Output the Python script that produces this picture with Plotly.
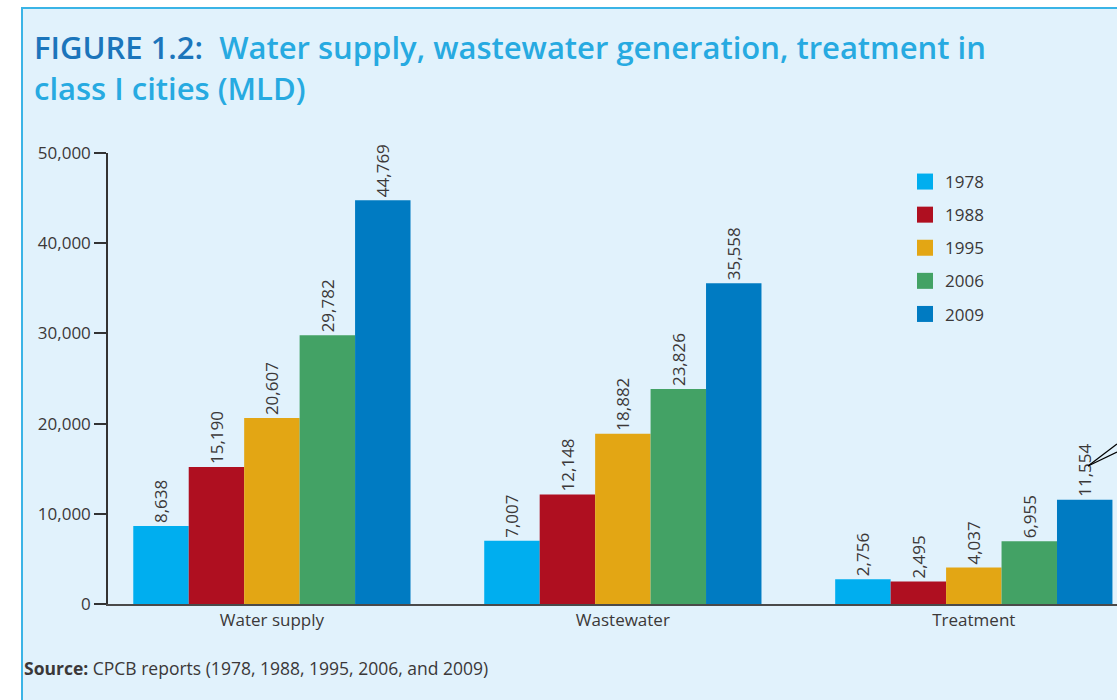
import plotly.graph_objects as go

# ---- data ----
categories = ["Water supply", "Wastewater", "Treatment"]
years = ["1978", "1988", "1995", "2006", "2009"]
v1978 = [8638, 7007, 2756]
v1988 = [15190, 12148, 2495]
v1995 = [20607, 18882, 4037]
v2006 = [29782, 23826, 6955]
v2009 = [44769, 35558, 11554]
series = [v1978, v1988, v1995, v2006, v2009]
colors = ["#00aeef", "#af0f20", "#e3a614", "#43a265", "#007bc2"]
y_ticks = [0, 10000, 20000, 30000, 40000, 50000]
y_tick_text = ["0", "10,000", "20,000", "30,000", "40,000", "50,000"]

W, H = 1117, 700
L, R, T, B = 108, 1117, 153, 604

def px(x):
    return (x - L) / (R - L)

def py(y):
    return (B - y) / (B - T)

FONT = "Open Sans"
TXT = "#3b3838"

fig = go.Figure()
for yr, vals, c in zip(years, series, colors):
    fig.add_trace(go.Bar(
        x=categories, y=vals, name=yr, marker=dict(color=c, line=dict(width=0)),
        texttemplate="%{y:,}", textposition="outside", textangle=-90,
        textfont=dict(family=FONT, size=17, color=TXT), cliponaxis=False,
        showlegend=False,
    ))
    fig.add_trace(go.Scatter(
        x=[None], y=[None], mode="markers", name=yr, legendgroup=yr,
        marker=dict(symbol="square", size=16, color=c),
    ))

fig.update_layout(
    width=W, height=H,
    margin=dict(l=L, r=W - R, t=T, b=H - B, pad=0),
    paper_bgcolor="white",
    plot_bgcolor="rgba(0,0,0,0)",
    barmode="group", bargap=0.21, bargroupgap=0,
    font=dict(family=FONT, color=TXT),
    showlegend=True,
    legend=dict(x=px(905), y=py(164), xanchor="left", yanchor="top",
                bgcolor="rgba(0,0,0,0)", font=dict(size=17, color=TXT),
                tracegroupgap=8, itemsizing="trace"),
    xaxis=dict(range=[-0.467, 2.408], showline=True, linecolor="#4a4a4a", linewidth=2,
               ticks="", showgrid=False, zeroline=False,
               tickfont=dict(size=17, color=TXT), fixedrange=True),
    yaxis=dict(range=[0, 50000], tickvals=y_ticks, ticktext=y_tick_text,
               showline=True, linecolor="#333333", linewidth=1.5,
               ticks="outside", ticklen=12, tickwidth=1.5, tickcolor="#333333",
               showgrid=False, zeroline=False,
               tickfont=dict(size=17, color=TXT), fixedrange=True),
    shapes=[
        dict(type="rect", xref="paper", yref="paper", x0=px(22), x1=px(1200),
             y0=py(760), y1=py(8), fillcolor="#e1f2fc",
             line=dict(color="#3ab4e6", width=2), layer="below"),
        dict(type="line", xref="paper", yref="paper", x0=px(1088), y0=py(466),
             x1=px(1117), y1=py(444), line=dict(color="black", width=1.3)),
        dict(type="line", xref="paper", yref="paper", x0=px(1088), y0=py(466),
             x1=px(1117), y1=py(452), line=dict(color="black", width=1.3)),
    ],
    annotations=[
        dict(xref="paper", yref="paper", x=px(32), y=py(47), xanchor="left", yanchor="middle",
             showarrow=False,
             text="<span style='color:#1b75bb'>FIGURE 1.2:</span>  Water supply, wastewater generation, treatment in",
             font=dict(family=FONT, size=31, color="#27aae1", weight=600)),
        dict(xref="paper", yref="paper", x=px(32), y=py(88), xanchor="left", yanchor="middle",
             showarrow=False, text="class I cities (MLD)",
             font=dict(family=FONT, size=31, color="#27aae1", weight=600)),
        dict(xref="paper", yref="paper", x=px(22), y=py(668), xanchor="left", yanchor="middle",
             showarrow=False,
             text="<b>Source:</b> CPCB reports (1978, 1988, 1995, 2006, and 2009)",
             font=dict(family=FONT, size=17.5, color=TXT)),
    ],
)

fig.write_html("out.html", config={"displayModeBar": False},
               post_script="document.body.style.margin='0px';")
